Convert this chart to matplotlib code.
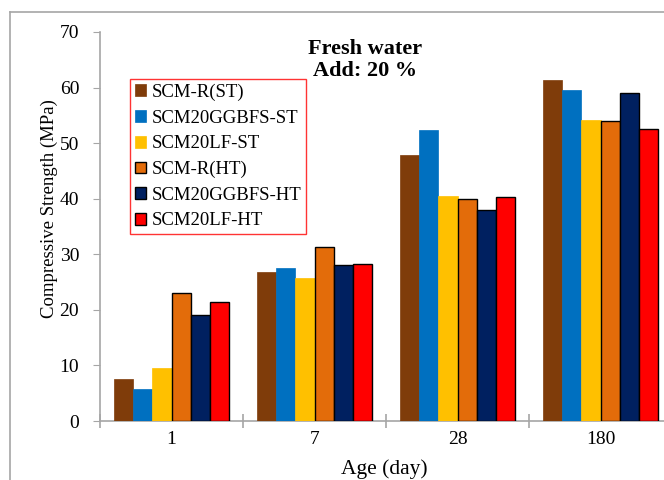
import matplotlib.pyplot as plt
import numpy as np
from matplotlib.lines import Line2D

ages = ["1", "7", "28", "180"]
series = ["SCM-R(ST)", "SCM20GGBFS-ST", "SCM20LF-ST",
          "SCM-R(HT)", "SCM20GGBFS-HT", "SCM20LF-HT"]

scm_r_st = [7.5, 26.9, 47.8, 61.3]
ggbfs_st = [5.7, 27.6, 52.4, 59.5]
lf_st = [9.6, 25.7, 40.4, 54.2]
scm_r_ht = [23.0, 31.4, 39.9, 53.9]
ggbfs_ht = [19.1, 28.1, 37.9, 59.1]
lf_ht = [21.5, 28.3, 40.3, 52.5]

values = [scm_r_st, ggbfs_st, lf_st, scm_r_ht, ggbfs_ht, lf_ht]
colors = ["#7F3C0A", "#0070C0", "#FFC000", "#E36C0A", "#002060", "#FF0000"]
edges = [None, None, None, "black", "black", "black"]

plt.rcParams["font.family"] = ["Liberation Serif", "DejaVu Serif"]

fig = plt.figure(figsize=(6.64, 4.8), dpi=100)
ax = fig.add_axes([100 / 664, 1 - 421 / 480, 572 / 664, 389 / 480])

x = np.arange(len(ages))
width = 0.8 / len(series)
for i, (name, vals) in enumerate(zip(series, values)):
    offs = (i - (len(series) - 1) / 2) * width
    if edges[i]:
        ax.bar(x + offs, vals, width, color=colors[i], edgecolor="black",
               linewidth=1.0, label=name, zorder=3)
    else:
        ax.bar(x + offs, vals, width, color=colors[i], edgecolor=colors[i],
               linewidth=0.5, label=name, zorder=3)

ax.set_xlim(-0.5, len(ages) - 0.5)
ax.set_ylim(0, 70)
ax.set_yticks(range(0, 71, 10))
ax.set_xticks(x)
ax.set_xticklabels(ages)
ax.set_xticks(np.arange(len(ages) + 1) - 0.5, minor=True)

for s in ["top", "right"]:
    ax.spines[s].set_visible(False)
for s in ["left", "bottom"]:
    ax.spines[s].set_color("#A6A6A6")
    ax.spines[s].set_linewidth(1.2)

ax.tick_params(axis="y", direction="out", length=5, color="#A6A6A6",
               labelsize=14, pad=10)
ax.tick_params(axis="x", which="major", length=0, labelsize=14, pad=7)
ax.tick_params(axis="x", which="minor", direction="inout", length=10,
               color="#A6A6A6", width=1.2)

ax.set_ylabel("Compressive Strength (MPa)", fontsize=13.5)
ax.yaxis.set_label_coords(-42 / 572, 0.545)
ax.set_xlabel("Age (day)", fontsize=15.5)
ax.xaxis.set_label_coords(284 / 572, -38 / 389)

fig.text(365 / 664, 1 - 60 / 480, "Fresh water\nAdd: 20 %", ha="center",
         va="center", fontsize=16, fontweight="bold", linespacing=1.2)

leg = ax.legend(loc="upper left", bbox_to_anchor=(130 / 664, 1 - 79 / 480),
                bbox_transform=fig.transFigure, fontsize=13.5, frameon=True,
                fancybox=False, handlelength=0.6, handleheight=0.6,
                handletextpad=0.3, labelspacing=0.46, borderpad=0.25,
                borderaxespad=0)
leg.get_frame().set_edgecolor("#FF0000")
leg.get_frame().set_linewidth(1.0)

# outer chart-area border
fig.add_artist(Line2D([10 / 664, 10 / 664], [0, 1 - 12 / 480],
                      transform=fig.transFigure, color="#A6A6A6", lw=1.2))
fig.add_artist(Line2D([10 / 664, 1], [1 - 12 / 480, 1 - 12 / 480],
                      transform=fig.transFigure, color="#A6A6A6", lw=1.2))

fig.savefig("out.png", dpi=100)
